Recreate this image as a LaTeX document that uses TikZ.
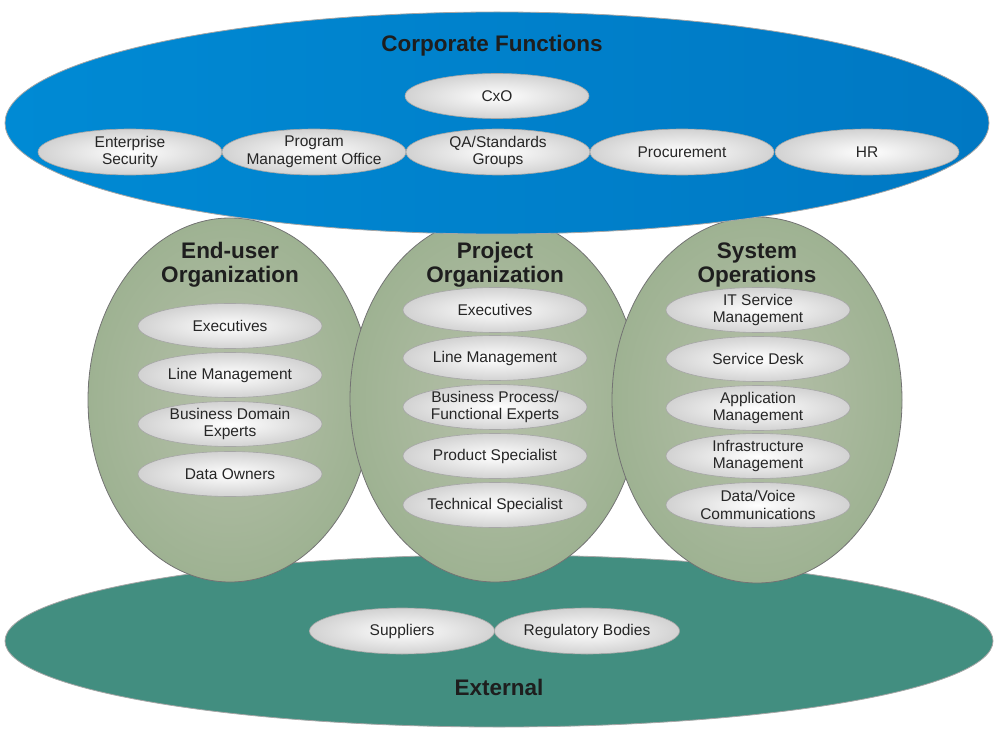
\documentclass[tikz,border=0pt]{standalone}
\usepackage{fontspec}
\setmainfont{Liberation Sans}
\usetikzlibrary{shapes.geometric}
\definecolor{corpblue}{RGB}{0,138,212}
\definecolor{corpblued}{RGB}{0,120,195}
\definecolor{extteal}{RGB}{66,142,128}
\definecolor{orggreen}{RGB}{158,178,146}
\definecolor{orggreenl}{RGB}{182,192,170}
\definecolor{pillgray}{RGB}{210,210,210}
\definecolor{txtdark}{RGB}{30,30,30}
\tikzset{
  big/.style={ellipse, inner sep=0pt, draw=black!35, line width=0.8pt},
  org/.style={ellipse, inner sep=0pt, draw=black!55, line width=0.8pt,
    inner color=orggreenl, outer color=orggreen},
  pill/.style={ellipse, inner xsep=-45pt, inner ysep=-14pt, draw=black!35, line width=0.6pt,
    inner color=white, outer color=pillgray,
    minimum width=184pt, minimum height=45pt,
    font=\fontsize{15.5}{17.5}\selectfont, align=center, text=black!85},
  ttl/.style={font=\fontsize{22.5}{24}\selectfont\bfseries, align=center, text=txtdark},
}
\begin{document}
\begin{tikzpicture}[x=1pt,y=-1pt]
\useasboundingbox (0,0) rectangle (1001,738);
% External
\node[big, fill=extteal, minimum width=988pt, minimum height=172pt] (ext) at (499,641) {};
\node[ttl] (extt) at (499,687) {External};
\node[pill, minimum width=185pt, minimum height=46pt] (sup) at (402,631) {Suppliers};
\node[pill, minimum width=185pt, minimum height=46pt] (reg) at (587,631) {Regulatory Bodies};
% Organisation ellipses
\node[org, minimum width=284pt, minimum height=364pt] (eu) at (230,400) {};
\node[org, minimum width=290pt, minimum height=366pt] (po) at (495,399) {};
\node[org, minimum width=290pt, minimum height=366pt] (so) at (757,400) {};
\node[ttl] (eut) at (230,265) {End-user\\Organization};
\node[ttl] (pot) at (495,265) {Project\\Organization};
\node[ttl] (sot) at (757,265) {System\\Operations};
% End-user items
\node[pill] (eu1) at (230,326) {Executives};
\node[pill] (eu2) at (230,375) {Line Management};
\node[pill] (eu3) at (230,424) {Business Domain\\Experts};
\node[pill] (eu4) at (230,474) {Data Owners};
% Project items
\node[pill] (po1) at (495,310) {Executives};
\node[pill] (po2) at (495,358) {Line Management};
\node[pill] (po3) at (495,407) {Business Process/\\Functional Experts};
\node[pill] (po4) at (495,456) {Product Specialist};
\node[pill] (po5) at (495,505) {Technical Specialist};
% System items
\node[pill] (so1) at (758,310) {IT Service\\Management};
\node[pill] (so2) at (758,359) {Service Desk};
\node[pill] (so3) at (758,408) {Application\\Management};
\node[pill] (so4) at (758,456) {Infrastructure\\Management};
\node[pill] (so5) at (758,505) {Data/Voice\\Communications};
% Corporate functions
\node[big, left color=corpblue, right color=corpblued, minimum width=984pt, minimum height=222pt] (corp) at (497,123) {};
\node[ttl] (corpt) at (492,46) {Corporate Functions};
\node[pill] (cxo) at (497,96) {CxO};
\node[pill, minimum height=46pt] (c1) at (130,152) {Enterprise\\Security};
\node[pill, minimum height=46pt] (c2) at (314,152) {Program\\Management Office};
\node[pill, minimum height=46pt] (c3) at (498,152) {QA/Standards\\Groups};
\node[pill, minimum height=46pt] (c4) at (682,152) {Procurement};
\node[pill, minimum height=46pt] (c5) at (867,152) {HR};
\end{tikzpicture}
\end{document}
